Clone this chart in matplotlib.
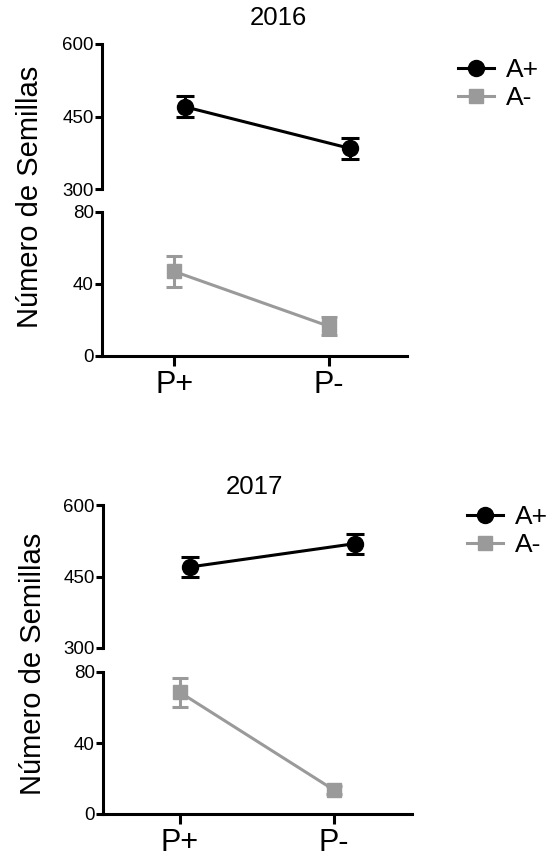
import matplotlib
matplotlib.use("Agg")
import matplotlib.pyplot as plt
from matplotlib.lines import Line2D

plt.rcParams['font.family'] = ['Liberation Sans', 'DejaVu Sans']

categories = ['P+', 'P-']
years = ['2016', '2017']
# A+ (black circles), A- (gray squares): means and error (SEM)
a_plus = {'2016': [470, 384], '2017': [470, 519]}
a_plus_err = {'2016': [22, 22], '2017': [21, 21]}
a_minus = {'2016': [47, 16.5], '2017': [68.5, 13.5]}
a_minus_err = {'2016': [8.5, 5], '2017': [8, 2]}

GRAY = '#9a9a9a'
LW = 2.2

fig = plt.figure(figsize=(5.55, 8.61), dpi=100)
W, H = 555.0, 861.0


def px_axes(x0, x1, ytop, ybot):
    return fig.add_axes([x0 / W, 1 - ybot / H, (x1 - x0) / W, (ybot - ytop) / H])


def style(ax):
    for s in ['top', 'right']:
        ax.spines[s].set_visible(False)
    for s in ['left', 'bottom']:
        ax.spines[s].set_linewidth(LW)
    ax.tick_params(width=LW, length=5, labelsize=13.5, direction='out', pad=1)


# layout (pixels): spine x, right end, up/low axes top and bottom, x positions
layout = {
    '2016': dict(x0=102, x1=407, up=(44, 189), low=(212, 356),
                 xl_up=(-0.503, 1.345), xl_low=(-0.465, 1.503),
                 title=(278, 18), ylab=(30, 197), leg=(458, 84)),
    '2017': dict(x0=103, x1=412, up=(505, 648), low=(672, 814),
                 xl_up=(-0.527, 1.345), xl_low=(-0.5, 1.506),
                 title=(254, 487), ylab=(33, 664), leg=(467, 531)),
}

x = list(range(len(categories)))

for yr in years:
    L = layout[yr]
    up = px_axes(L['x0'], L['x1'], *L['up'])
    low = px_axes(L['x0'], L['x1'], *L['low'])

    up.errorbar(x, a_plus[yr], yerr=a_plus_err[yr], color='black', lw=LW,
                marker='o', ms=11.5, capsize=6.5, capthick=LW, elinewidth=LW,
                clip_on=False)
    low.errorbar(x, a_minus[yr], yerr=a_minus_err[yr], color=GRAY, lw=LW,
                 marker='s', ms=10, capsize=6, capthick=LW, elinewidth=LW,
                 clip_on=False)

    up.set_ylim(300, 600)
    up.set_yticks([300, 450, 600])
    up.set_xlim(*L['xl_up'])
    style(up)
    up.spines['bottom'].set_visible(False)
    up.set_xticks([])

    low.set_ylim(0, 80)
    low.set_yticks([0, 40, 80])
    low.set_xlim(*L['xl_low'])
    style(low)
    low.set_xticks(x)
    low.set_xticklabels(categories, fontsize=22)
    low.tick_params(axis='x', length=7, pad=3)

    fig.text(L['title'][0] / W, 1 - L['title'][1] / H, yr, fontsize=18.5,
             ha='center', va='center')
    fig.text(L['ylab'][0] / W, 1 - L['ylab'][1] / H, 'Número de Semillas',
             fontsize=21, rotation=90, ha='center', va='center')

    handles = [
        Line2D([], [], color='black', lw=LW, marker='o', ms=11.5),
        Line2D([], [], color=GRAY, lw=LW, marker='s', ms=10),
    ]
    fig.legend(handles, ['A+', 'A-'], loc='center left',
               bbox_to_anchor=(L['leg'][0] / W, 1 - L['leg'][1] / H),
               frameon=False, fontsize=19, handlelength=1.35,
               handletextpad=0.45, labelspacing=0.15, borderpad=0,
               borderaxespad=0)

fig.savefig('out.png', dpi=100)
